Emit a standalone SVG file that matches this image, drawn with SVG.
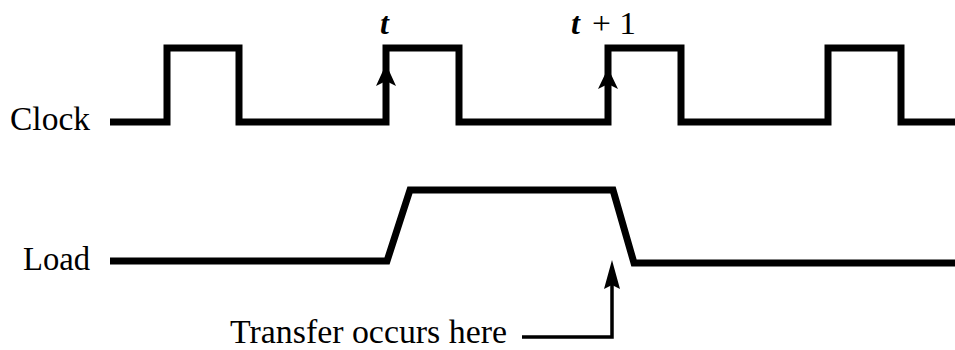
<svg xmlns="http://www.w3.org/2000/svg" width="955" height="350" viewBox="0 0 955 350">
<style>
.wave{fill:none;stroke:#000;stroke-width:7;stroke-linejoin:miter;stroke-linecap:butt}
.lbl{font-family:"Liberation Serif","Times New Roman",serif;font-size:33px;fill:#000}
.time{font-family:"Liberation Serif","Times New Roman",serif;font-size:32px;font-style:italic;font-weight:bold;fill:#000}
.num{font-family:"Liberation Serif","Times New Roman",serif;font-size:31px;fill:#000}
.ptr{fill:none;stroke:#000;stroke-width:3.5}
.head{fill:#000;stroke:none}
</style>
<rect width="955" height="350" fill="#fff"/>
<g id="clock">
<text class="lbl" x="10" y="130" textLength="80" lengthAdjust="spacingAndGlyphs">Clock</text>
<path class="wave" d="M110,122 H167 V48 H239 V122 H386 V48 H459 V122 H608 V48 H681 V122 H828 V48 H901 V122 H955"/>
</g>
<g id="load">
<text class="lbl" x="23" y="270" textLength="67" lengthAdjust="spacingAndGlyphs">Load</text>
<path class="wave" d="M110,261 H387 L410,190 H613 L634,263 H955"/>
</g>
<g id="label-t">
<text class="time" x="380" y="34">t</text>
</g>
<g id="label-t1">
<text class="time" x="571" y="34">t</text>
<text class="num" x="592" y="34" textLength="44" lengthAdjust="spacingAndGlyphs">+ 1</text>
</g>
<g id="transfer-label">
<text class="lbl" x="230" y="343" textLength="277" lengthAdjust="spacingAndGlyphs">Transfer occurs here</text>
</g>
<g id="connectors">
<path class="head" d="M386,64 L396,86 L386,81 L376,86 Z"/>
<path class="head" d="M608,68 L618,89 L608,84 L598,89 Z"/>
<path class="ptr" d="M522,337 H612 V280"/>
<path class="head" d="M612,260 L620,289 L612,285 L604,289 Z"/>
</g>
</svg>
